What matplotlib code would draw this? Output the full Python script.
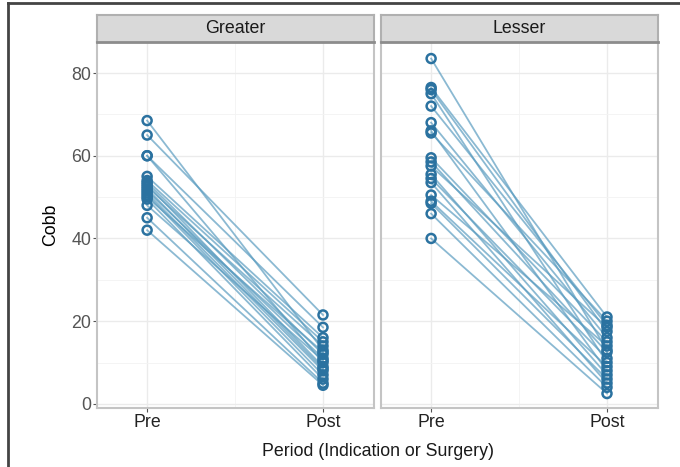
import matplotlib.pyplot as plt
from matplotlib.lines import Line2D

plt.rcParams['font.family'] = ['Liberation Sans', 'DejaVu Sans']

periods = ['Pre', 'Post']
panels = ['Greater', 'Lesser']

# valores Cobb por paciente (pre, post)
greater_pre = [68.5, 65, 60, 60, 55, 54, 53.5, 53, 52.5, 52, 51.5, 50.5, 50, 49.5, 48, 45, 42, 51]
greater_post = [13, 21.5, 18.5, 10, 16, 15, 12, 9, 14, 8.5, 11, 7, 12.5, 6, 10.5, 5, 4.5, 8]

lesser_pre = [83.5, 76.5, 76, 75, 72, 68, 66, 65.5, 59.5, 58.5, 57.5, 55.5, 54.5, 53.5, 50.5, 49, 48.5, 46, 40]
lesser_post = [13, 21, 17.5, 10, 19, 16, 8, 20, 15, 12.5, 18.5, 7, 11, 5, 14, 9, 6, 4, 2.5]

data = {'Greater': (greater_pre, greater_post), 'Lesser': (lesser_pre, lesser_post)}

fig = plt.figure(figsize=(6.8, 4.67), dpi=100)

lefts = [97 / 680, 381 / 680]
w1 = 277 / 680
bottom = 1 - 408 / 467
height = (408 - 42) / 467

line_col = '#5a9cc0'
mark_col = '#2b72a0'
fs = 12.8

for i, name in enumerate(panels):
    ax = fig.add_axes([lefts[i], bottom, w1, height])
    pre, post = data[name]
    for a, b in zip(pre, post):
        ax.plot([1, 2], [a, b], color=line_col, alpha=0.7, lw=1.3, zorder=2)
    ax.scatter([1] * len(pre), pre, s=42, facecolors='none', edgecolors=mark_col, linewidths=1.8, zorder=3)
    ax.scatter([2] * len(post), post, s=42, facecolors='none', edgecolors=mark_col, linewidths=1.8, zorder=3)
    ax.set_xlim(0.715, 2.29)
    ax.set_ylim(-1, 87.5)
    ax.set_xticks([1, 2])
    ax.set_xticklabels(periods, fontsize=fs, color='#222222')
    ax.set_yticks([0, 20, 40, 60, 80])
    ax.set_yticks([10, 30, 50, 70], minor=True)
    ax.set_xticks([1.5], minor=True)
    ax.grid(True, which='major', color='#ebebeb', lw=1)
    ax.grid(True, which='minor', color='#f3f3f3', lw=0.6)
    ax.set_axisbelow(True)
    for s in ax.spines.values():
        s.set_color('#c4c4c4')
        s.set_linewidth(1.5)
    ax.tick_params(which='major', length=3, color='#555555', labelsize=fs, pad=1)
    ax.tick_params(which='minor', length=0)
    ax.tick_params(axis='y', labelcolor='#555555')
    if i == 0:
        ax.set_ylabel('Cobb', fontsize=fs, labelpad=9)
    else:
        ax.tick_params(axis='y', labelleft=False, length=0)
    # strip
    sax = fig.add_axes([lefts[i], 1 - 42 / 467, w1, 27 / 467])
    sax.set_xticks([])
    sax.set_yticks([])
    sax.set_facecolor('#d9d9d9')
    for s in sax.spines.values():
        s.set_color('#b0b0b0')
        s.set_linewidth(1.5)
    sax.spines['bottom'].set_color('#8c8c8c')
    sax.spines['bottom'].set_linewidth(2)
    sax.text(0.5, 0.5, name, ha='center', va='center', fontsize=fs, color='#1a1a1a', transform=sax.transAxes)

fig.text(378 / 680, 1 - 452 / 467, 'Period (Indication or Surgery)', ha='center', va='center', fontsize=fs, color='#1a1a1a')

# marco exterior
fig.add_artist(Line2D([7.5 / 680, 7.5 / 680], [0, 1 - 3 / 467], color='#444444', lw=2))
fig.add_artist(Line2D([7.5 / 680, 1], [1 - 3 / 467, 1 - 3 / 467], color='#444444', lw=2))

fig.savefig('out.png', dpi=100)
